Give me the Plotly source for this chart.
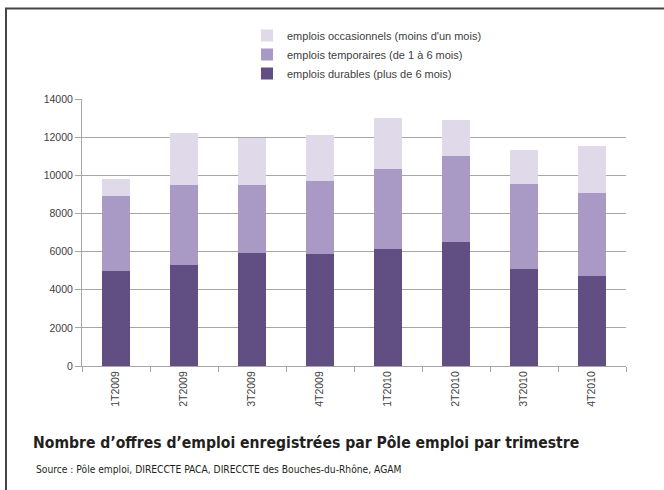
import plotly.graph_objects as go

categories = ["1T2009", "2T2009", "3T2009", "4T2009", "1T2010", "2T2010", "3T2010", "4T2010"]
durables = [5000, 5300, 5900, 5850, 6150, 6500, 5100, 4700]
temporaires = [3900, 4200, 3600, 3850, 4200, 4500, 4450, 4350]
occasionnels = [900, 2700, 2450, 2400, 2650, 1900, 1800, 2500]

names = [
    "emplois durables (plus de 6 mois)",
    "emplois temporaires (de 1 à 6 mois)",
    "emplois occasionnels (moins d'un mois)",
]
colors = ["#614F84", "#A899C5", "#DFD9EA"]

W, H = 664, 490
L, R, T, B = 82, 38, 99, 124
pw, ph = W - L - R, H - T - B


def px_x(p):
    return (p - L) / pw


def px_y(p):
    return (H - B - p) / ph


fig = go.Figure()
for name, vals, col in zip(names, [durables, temporaires, occasionnels], colors):
    fig.add_trace(go.Bar(x=categories, y=vals, name=name, marker=dict(color=col, line=dict(width=0))))

font_main = "Liberation Sans, Arial, sans-serif"
font_narrow = "Liberation Sans Narrow, DejaVu Sans Condensed, Arial Narrow, sans-serif"

fig.update_layout(
    width=W, height=H,
    margin=dict(l=L, r=R, t=T, b=B),
    paper_bgcolor="white", plot_bgcolor="white",
    barmode="stack", bargap=0.584,
    font=dict(family=font_main, size=11, color="#404040"),
    legend=dict(
        x=px_x(247), y=px_y(21), xanchor="left", yanchor="top",
        traceorder="reversed", tracegroupgap=0,
        font=dict(size=11, color="#404040"),
        bgcolor="rgba(0,0,0,0)",
    ),
    xaxis=dict(
        type="category", tickson="boundaries", ticks="outside", ticklen=5,
        tickcolor="#A6A6A6", showline=True, linecolor="#A6A6A6", linewidth=1,
        tickangle=-90, tickfont=dict(size=10.5, color="#404040"),
        showgrid=False,
    ),
    yaxis=dict(
        range=[0, 14000], dtick=2000, tickformat="d",
        showgrid=True, gridcolor="#A6A6A6", gridwidth=1,
        showline=True, linecolor="#A6A6A6", linewidth=1,
        ticks="outside", ticklen=6, tickcolor="#A6A6A6",
        tickfont=dict(size=10.5, color="#404040"),
        zeroline=False,
    ),
    shapes=[
        dict(type="line", xref="paper", yref="paper",
             x0=px_x(5), x1=px_x(670), y0=px_y(8.5), y1=px_y(8.5),
             line=dict(color="#454545", width=2)),
        dict(type="line", xref="paper", yref="paper",
             x0=px_x(6), x1=px_x(6), y0=px_y(8.5), y1=px_y(495),
             line=dict(color="#454545", width=2)),
    ],
    annotations=[
        dict(text="<b>Nombre d’offres d’emploi enregistrées par Pôle emploi par trimestre</b>",
             xref="paper", yref="paper", x=px_x(31), y=px_y(443),
             xanchor="left", yanchor="middle", showarrow=False,
             font=dict(family=font_narrow, size=15.6, color="#231F20")),
        dict(text="Source : Pôle emploi, DIRECCTE PACA, DIRECCTE des Bouches-du-Rhône, AGAM",
             xref="paper", yref="paper", x=px_x(34), y=px_y(469),
             xanchor="left", yanchor="middle", showarrow=False,
             font=dict(family=font_narrow, size=10.2, color="#231F20")),
    ],
)

fig.write_html("out.html", config={"displayModeBar": False},
               post_script="document.body.style.margin='0';")
